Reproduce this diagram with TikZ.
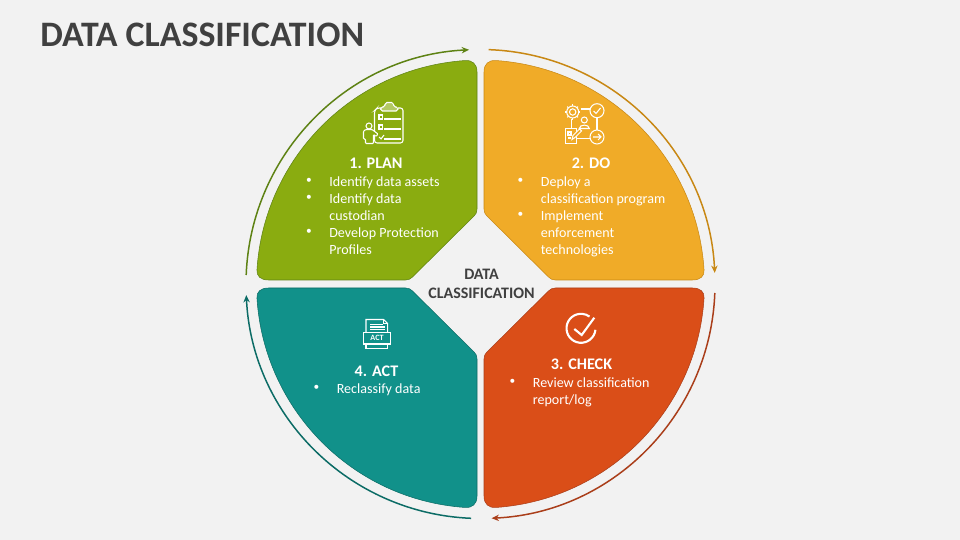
\documentclass[tikz,border=0pt]{standalone}
\usepackage{fontspec}
\setmainfont{Carlito}
\usetikzlibrary{arrows.meta, positioning}
\definecolor{page1}{RGB}{242,242,242}
\definecolor{ink1}{RGB}{64,64,64}
\definecolor{green1}{RGB}{138,172,16}
\definecolor{orange1}{RGB}{240,171,40}
\definecolor{red1}{RGB}{218,78,24}
\definecolor{teal1}{RGB}{17,145,138}
\definecolor{green2}{RGB}{94,130,20}
\definecolor{orange2}{RGB}{200,136,20}
\definecolor{red2}{RGB}{170,62,26}
\definecolor{teal2}{RGB}{12,108,102}
\def\petal{(-212,-4) .. controls (-220,-4) and (-224,-8) .. (183.6:224)
    arc[start angle=183.6, end angle=266, radius=224]
    .. controls (-8,-224) and (-3.5,-220) .. (-3.5,-212)
    -- (-3.5,-75) .. controls (-3.5,-72) and (-4.5,-70) .. (-6,-68.5)
    -- (-68,-7) .. controls (-70,-5) and (-72,-4) .. (-75,-4) -- cycle}
\newcommand{\bulletrow}[4]{%
  \node[dotmark] (#1dot) at (#2,#3) {\textbullet};
  \node[itemtext] (#1) at (#2+20,#3-4.5) {#4};
}
\begin{document}
\begin{tikzpicture}[
    x=0.02cm, y=-0.02cm,
    titletext/.style={font=\fontsize{20.4}{24}\selectfont\bfseries, text=ink1, inner sep=0pt},
    hubtext/.style={font=\fontsize{9.1}{10.8}\selectfont\bfseries, text=ink1, align=center, inner sep=0pt},
    headtext/.style={font=\fontsize{9.2}{11}\selectfont\bfseries, text=white, inner sep=0pt},
    itemtext/.style={font=\fontsize{8}{9.64}\selectfont, text=white, align=left, anchor=north west, inner sep=0pt},
    dotmark/.style={font=\fontsize{6.5}{9.64}\selectfont, text=white, inner sep=0pt},
    iconline/.style={draw=white, line width=0.6pt},
    looparrow/.style={line width=0.85pt, -{Stealth[length=4.2pt,width=3.6pt]}}
]
    \fill[page1] (0,0) rectangle (960,540);
    \useasboundingbox (0,0) rectangle (960,540);

    \node[titletext, anchor=west] (title) at (40,35) {DATA CLASSIFICATION};

    \begin{scope}[shift={(480.5,284)}]
        \foreach \sx/\sy/\col/\edge in {1/1/green1/green2, -1/1/orange1/orange2, -1/-1/red1/red2, 1/-1/teal1/teal2}
        {
            \draw[xscale=\sx, yscale=\sy, fill=\col, draw=\edge, line width=0.3pt] \petal;
        };
        \foreach \name/\from/\to/\col in {plan/182.2/267.2/green2, do/272/357.3/orange2, check/2.2/87.3/red2, act/92.3/177.3/teal2}
        {
            \coordinate (\name from) at (\from:234.5);
            \draw[looparrow, draw=\col] (\name from) arc[start angle=\from, end angle=\to, radius=234.5];
        };
    \end{scope}

    \node[hubtext] (hub) at (481.5,283.5) {DATA\\CLASSIFICATION};

    \node[headtext] (planhead) at (376,163.5) {1. PLAN};
    \bulletrow{plana}{309}{181}{Identify data assets}
    \bulletrow{planb}{309}{198}{Identify data\\custodian}
    \bulletrow{planc}{309}{232}{Develop Protection\\Profiles}

    \node[headtext] (dohead) at (591,163.5) {2. DO};
    \bulletrow{doa}{520.5}{181}{Deploy a\\classification program}
    \bulletrow{dob}{520.5}{215}{Implement\\enforcement\\technologies}

    \node[headtext] (checkhead) at (581.5,364.5) {3. CHECK};
    \bulletrow{checka}{512.5}{382}{Review classification\\report/log}

    \node[headtext] (acthead) at (376.5,371.5) {4. ACT};
    \bulletrow{acta}{316.5}{388}{Reclassify data}

    % clipboard
    \draw[iconline, rounded corners=1.5pt] (381,108) -- (377,108) -- (374.5,110.5) -- (374.5,143) -- (403,143) -- (403,108) -- (398,108);
    \draw[iconline, fill=white!35!green1, rounded corners=1pt] (380.5,111) -- (380.5,107) -- (385,107) -- (385,102.5) -- (393.5,102.5) -- (393.5,107) -- (398,107) -- (398,111) -- cycle;
    \draw[iconline] (379,115) rectangle (382.5,119) (379,125) rectangle (382.5,129);
    \draw[iconline] (383.5,119) -- (401,119) (383.5,129) -- (401,129) (383.5,139) -- (401,139);
    \draw[iconline] (379,137) -- (381,139) -- (384,135);
    \draw[iconline] (369,126) circle (3);
    \draw[iconline, fill=green1, rounded corners=0.5pt] (363.5,139) -- (363.5,131) -- (366,129.5) -- (372,129.5) -- (378,134) -- (376,136.5) -- (373.5,134.5) -- (373.5,143.5) -- (365.5,143.5) -- (365.5,139) -- cycle;

    % process
    \draw[iconline] (572.7,112) circle (3.2) circle (6);
    \foreach \a in {0,45,...,315}
    {
        \draw[iconline] (572.7,112) ++(\a:6) -- ++(\a:1.6);
    };
    \draw[iconline] (597,110.7) circle (7) (597,137) circle (7);
    \draw[iconline] (593.5,111) -- (596,113.5) -- (600.5,108);
    \draw[iconline] (593,137) -- (601,137) (598,134) -- (601,137) -- (598,140);
    \draw[iconline] (580.5,109) -- (590,109) (571.7,119.5) -- (571.7,128) (597,117.7) -- (597,130) (577,138.7) -- (590,138.7);
    \draw[iconline] (584.3,120) circle (3);
    \draw[iconline] (579.3,128.5) .. controls (579.3,124) and (589.3,124) .. (589.3,128.5) -- cycle;
    \draw[iconline] (565.7,128.5) rectangle (576.7,143.5);
    \draw[iconline] (568,132) rectangle (571,135) (568,138) -- (571,138);
    \draw[iconline, fill=orange1] (572,139.5) -- (573,135.5) -- (579.5,129) -- (581.5,131) -- (575,137.5) -- cycle;

    % report
    \draw[iconline] (366,332) -- (366,319.5) -- (383.5,319.5) -- (387.7,323.5) -- (387.7,332);
    \draw[iconline] (383.5,319.5) -- (383.5,323.5) -- (387.7,323.5);
    \draw[iconline] (370,324.3) -- (383,324.3) (370,327) -- (385,327) (370,329.7) -- (385,329.7);
    \draw[iconline] (363.3,332.3) rectangle (390.7,344);
    \draw[iconline] (366,344) -- (366,348.3) -- (387.7,348.3) -- (387.7,344);
    \node[font=\fontsize{4.6}{5}\selectfont\bfseries, text=white, inner sep=0pt] (acticon) at (377,338.2) {ACT};

    % tick
    \draw[draw=white, line width=1.2pt] (581,328.3) ++(6:14.5) arc[start angle=6, end angle=306, radius=14.5];
    \draw[draw=white, line width=1.2pt] (574.3,329) -- (581.7,335) -- (594.3,317.7);
\end{tikzpicture}
\end{document}
